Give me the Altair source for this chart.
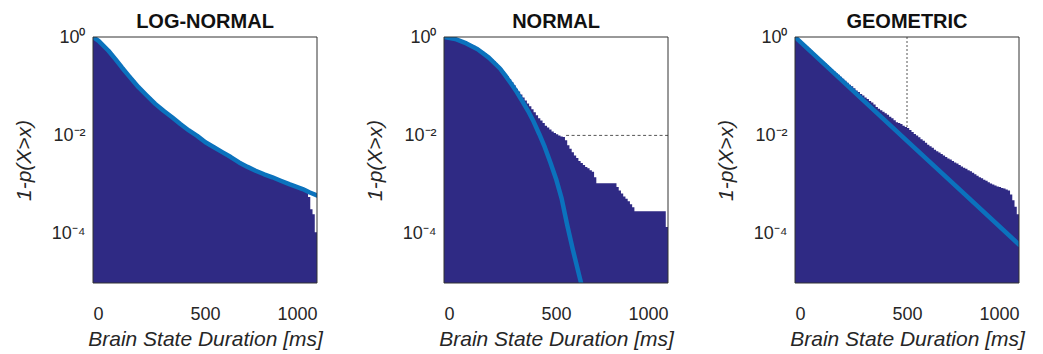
import altair as alt
import pandas as pd

# ---------------- data ----------------
TITLES = ["LOG-NORMAL", "NORMAL", "GEOMETRIC"]
BIN_START = list(range(0, 1000, 10))   # histogram bins, 10 ms wide
X_MAX = 1000

LOGN_HIST = [
    1.0, 0.933, 0.851, 0.776, 0.708, 0.646, 0.575, 0.513, 0.457, 0.398,
    0.355, 0.309, 0.275, 0.240, 0.209, 0.186, 0.166, 0.145, 0.129, 0.112,
    0.100, 0.0891, 0.0794, 0.0724, 0.0646, 0.0589, 0.0525, 0.0479, 0.0427, 0.0389,
    0.0355, 0.0324, 0.0302, 0.0275, 0.0257, 0.0240, 0.0219, 0.0204, 0.0186, 0.0170,
    0.0158, 0.0145, 0.0135, 0.0123, 0.0115, 0.0105, 0.00977, 0.00912, 0.00851, 0.00794,
    0.00741, 0.00692, 0.00646, 0.00617, 0.00575, 0.00537, 0.00513, 0.00479, 0.00447, 0.00417,
    0.00389, 0.00363, 0.00347, 0.00324, 0.00302, 0.00282, 0.00269, 0.00257, 0.00240, 0.00229,
    0.00219, 0.00209, 0.00195, 0.00186, 0.00182, 0.00174, 0.00166, 0.00158, 0.00155, 0.00148,
    0.00141, 0.00135, 0.00129, 0.00123, 0.00117, 0.00115, 0.00110, 0.00105, 0.00100, 0.000977,
    0.000933, 0.000891, 0.000871, 0.000832, 0.000794, 0.000759, 0.000562, 0.000316, 0.000251, 0.000107,
]
NORM_HIST = [
    1.0, 0.99, 0.977, 0.955, 0.933, 0.912, 0.891, 0.851, 0.832, 0.794,
    0.759, 0.724, 0.692, 0.661, 0.617, 0.575, 0.537, 0.501, 0.468, 0.427,
    0.389, 0.355, 0.324, 0.288, 0.257, 0.229, 0.204, 0.178, 0.158, 0.138,
    0.120, 0.105, 0.0891, 0.0776, 0.0676, 0.0589, 0.0513, 0.0447, 0.0389, 0.0339,
    0.0295, 0.0257, 0.0224, 0.0200, 0.0178, 0.0158, 0.0145, 0.0132, 0.0120, 0.0112,
    0.0105, 0.0100, 0.00955, 0.00933, 0.00794, 0.00631, 0.00537, 0.00457, 0.00389, 0.00347,
    0.00302, 0.00275, 0.00251, 0.00229, 0.00214, 0.00195, 0.00182, 0.00141, 0.00107, 0.00107,
    0.00107, 0.00107, 0.00107, 0.00107, 0.00107, 0.00107, 0.00107, 0.000891, 0.000759, 0.000661,
    0.000575, 0.000513, 0.000457, 0.000398, 0.000347, 0.000288, 0.000288, 0.000288, 0.000288, 0.000288,
    0.000288, 0.000288, 0.000288, 0.000288, 0.000288, 0.000288, 0.000288, 0.000288, 0.000288, 0.000138,
]
GEOM_HIST = [
    1.0, 0.912, 0.832, 0.759, 0.692, 0.631, 0.575, 0.525, 0.468, 0.427,
    0.389, 0.355, 0.324, 0.295, 0.269, 0.245, 0.224, 0.204, 0.186, 0.170,
    0.155, 0.141, 0.129, 0.117, 0.107, 0.100, 0.0912, 0.0813, 0.0759, 0.0692,
    0.0646, 0.0589, 0.0550, 0.0501, 0.0468, 0.0427, 0.0380, 0.0347, 0.0324, 0.0302,
    0.0282, 0.0263, 0.0240, 0.0224, 0.0204, 0.0186, 0.0178, 0.0170, 0.0158, 0.0148,
    0.0141, 0.0129, 0.0117, 0.0107, 0.0100, 0.00912, 0.00832, 0.00776, 0.00708, 0.00646,
    0.00603, 0.00562, 0.00513, 0.00479, 0.00447, 0.00417, 0.00389, 0.00363, 0.00339, 0.00324,
    0.00302, 0.00282, 0.00269, 0.00251, 0.00234, 0.00219, 0.00209, 0.00195, 0.00186, 0.00174,
    0.00162, 0.00151, 0.00141, 0.00135, 0.00126, 0.00120, 0.00112, 0.00105, 0.00100, 0.000955,
    0.000912, 0.000891, 0.000851, 0.000832, 0.000794, 0.000759, 0.000631, 0.000479, 0.000355, 0.000251,
]

LOGN_FIT_X = [0, 25, 69, 100, 129, 160, 203, 240, 278, 315, 353, 390, 428, 465, 502,
              540, 577, 615, 652, 690, 726, 764, 801, 838, 876, 906, 936, 968, 1000]
LOGN_FIT_Y = [1.0, 0.832, 0.525, 0.355, 0.240, 0.162, 0.0955, 0.0646, 0.0437, 0.0316,
              0.0234, 0.0170, 0.0126, 0.00977, 0.00724, 0.00575, 0.00457, 0.00363, 0.00282,
              0.00229, 0.00191, 0.00162, 0.00141, 0.00120, 0.00102, 0.000912, 0.000813,
              0.000692, 0.000603]

NORM_FIT_X = [0, 50, 100, 150, 200, 250, 275, 300, 325, 350, 375, 400, 425, 450,
              475, 500, 525, 550, 575, 600, 612]
NORM_FIT_Y = [1.0, 0.912, 0.741, 0.562, 0.380, 0.229, 0.162, 0.112, 0.0759, 0.049,
              0.0316, 0.0191, 0.0107, 0.00575, 0.00282, 0.00132, 0.000525, 0.000151,
              0.0000479, 0.0000166, 0.00001]

GEOM_FIT_X = [0, 250, 500, 750, 1000]
GEOM_FIT_Y = [1.0, 0.0881, 0.00776, 0.000684, 0.0000603]

# dotted guide lines
NORM_GUIDE = {"x": [545], "x2": [1000], "p": [0.01]}
GEOM_GUIDE = {"x": [500], "p": [1.0], "p2": [0.0141]}

Y_FLOOR = 1e-5
BAR_COLOR = "#2f2a84"
LINE_COLOR = "#0b72bd"
TEXT_COLOR = "#262626"
FRAME_COLOR = "#333333"
FONT = "Liberation Sans"
PANEL_W, PANEL_H = 224, 246


def panel(title, hist, fit_x, fit_y, guide=None, guide_kind=None):
    # step area: each bin value holds until the next bin start; close at X_MAX
    hdf = pd.DataFrame({"x": BIN_START + [X_MAX], "p": hist + [hist[-1]]})
    fdf = pd.DataFrame({"x": fit_x, "p": fit_y})
    xs = alt.Scale(domain=[0, X_MAX], nice=False, zero=False)
    ys = alt.Scale(type="log", domain=[Y_FLOOR, 1], nice=False)
    xaxis = alt.Axis(values=[0, 500, 1000], format="d", title="Brain State Duration [ms]")
    yaxis = alt.Axis(values=[1e-4, 1e-2, 1], title="1-p(X>x)",
                     titleX=-59, titleY=PANEL_H / 2,
                     labelExpr="datum.value > 0.5 ? '10⁰' : (datum.value > 0.005 ? '10⁻²' : '10⁻⁴')")
    area = alt.Chart(hdf).mark_area(color=BAR_COLOR, interpolate="step-after", clip=True).encode(
        x=alt.X("x:Q", scale=xs, axis=xaxis),
        y=alt.Y("p:Q", scale=ys, axis=yaxis),
        y2=alt.datum(Y_FLOOR),
    )
    line = alt.Chart(fdf).mark_line(color=LINE_COLOR, strokeWidth=4.5, strokeCap="round",
                                    strokeJoin="round", clip=True).encode(
        x=alt.X("x:Q", scale=xs), y=alt.Y("p:Q", scale=ys))
    layers = [area, line]
    if guide_kind == "h":
        layers.append(alt.Chart(pd.DataFrame(guide)).mark_rule(
            color="#555555", strokeWidth=1, strokeDash=[3, 2.5]).encode(
            x=alt.X("x:Q", scale=xs), x2="x2:Q", y=alt.Y("p:Q", scale=ys)))
    elif guide_kind == "v":
        layers.append(alt.Chart(pd.DataFrame(guide)).mark_rule(
            color="#555555", strokeWidth=1, strokeDash=[2, 2]).encode(
            x=alt.X("x:Q", scale=xs), y=alt.Y("p:Q", scale=ys), y2="p2:Q"))
    frame = alt.Chart(pd.DataFrame({"x": [0]})).mark_rect(
        filled=False, stroke=FRAME_COLOR, strokeWidth=1).encode(
        x=alt.datum(0, scale=xs), x2=alt.datum(X_MAX),
        y=alt.datum(1, scale=ys), y2=alt.datum(Y_FLOOR))
    layers.append(frame)
    return alt.layer(*layers).properties(
        width=PANEL_W, height=PANEL_H,
        title=alt.TitleParams(title, fontSize=20, fontWeight="bold", font=FONT,
                              color="#111111", offset=-4, anchor="middle"))


p1 = panel(TITLES[0], LOGN_HIST, LOGN_FIT_X, LOGN_FIT_Y)
p2 = panel(TITLES[1], NORM_HIST, NORM_FIT_X, NORM_FIT_Y, NORM_GUIDE, "h")
p3 = panel(TITLES[2], GEOM_HIST, GEOM_FIT_X, GEOM_FIT_Y, GEOM_GUIDE, "v")

chart = alt.hconcat(p1, p2, p3, spacing=127, bounds="flush").properties(
    padding={"left": 13, "top": 12, "right": 5, "bottom": 5},
    background="white",
).configure_view(
    stroke="transparent", strokeWidth=0
).configure_axis(
    labelFont=FONT, labelFontSize=18, labelColor=TEXT_COLOR,
    titleFont=FONT, titleFontSize=21, titleFontStyle="italic", titleFontWeight="normal",
    titleColor=TEXT_COLOR, domain=False, ticks=False, tickSize=0, grid=False,
).configure_axisX(
    labelPadding=22, titlePadding=5,
).configure_axisY(
    labelPadding=8,
)

chart.save("out.html", embed_options={"renderer": "svg", "actions": False})
